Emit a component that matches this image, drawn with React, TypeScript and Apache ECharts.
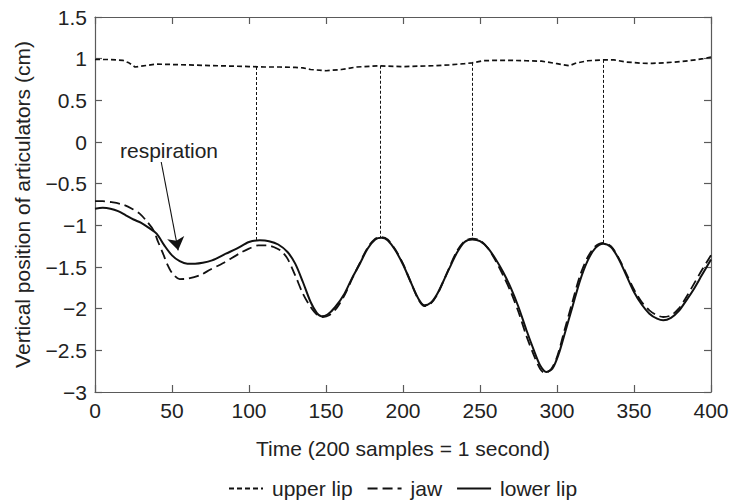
import React, { useEffect, useRef } from "react";
import * as echarts from "echarts";

// ---- data ----
const xLower = [0, 5, 10, 15, 20, 25, 30, 35, 40, 45, 50, 55, 60, 65, 70, 76, 85, 92, 100, 107, 113, 119, 125, 130, 135, 140, 144, 147, 151, 156, 162, 167, 172, 177, 182, 186, 190, 195, 200, 205, 210, 214, 218, 222, 226, 230, 235, 240, 245, 250, 255, 260, 265, 270, 275, 280, 285, 289, 293, 297, 301, 305, 310, 315, 320, 325, 330, 335, 340, 345, 350, 355, 360, 365, 369, 374, 379, 384, 389, 394, 400];
const lowerLip = [-0.8, -0.79, -0.8, -0.83, -0.88, -0.93, -0.97, -1.03, -1.1, -1.24, -1.36, -1.43, -1.46, -1.46, -1.45, -1.42, -1.34, -1.28, -1.2, -1.18, -1.19, -1.23, -1.32, -1.46, -1.68, -1.92, -2.05, -2.09, -2.07, -1.98, -1.82, -1.63, -1.46, -1.28, -1.17, -1.15, -1.18, -1.3, -1.47, -1.68, -1.88, -1.96, -1.93, -1.83, -1.68, -1.52, -1.33, -1.2, -1.17, -1.19, -1.27, -1.4, -1.56, -1.75, -1.98, -2.25, -2.5, -2.68, -2.76, -2.72, -2.55, -2.3, -1.98, -1.66, -1.42, -1.27, -1.22, -1.26, -1.4, -1.6, -1.8, -1.95, -2.06, -2.12, -2.14, -2.11, -2.03, -1.9, -1.76, -1.6, -1.41];

const xJaw = [0, 5, 10, 18, 24, 29, 34, 38, 41, 44, 47, 50, 55, 60, 68, 75, 83, 94, 100, 106, 112, 116, 121, 125, 130, 135, 140, 144, 148, 152, 157, 162, 167, 172, 177, 182, 186, 190, 195, 200, 205, 210, 214, 218, 222, 226, 230, 235, 240, 245, 250, 255, 260, 265, 270, 275, 280, 285, 289, 292, 296, 300, 305, 310, 315, 320, 325, 330, 335, 340, 345, 350, 355, 360, 365, 369, 374, 379, 384, 389, 394, 400];
const jaw = [-0.71, -0.71, -0.72, -0.75, -0.8, -0.86, -0.96, -1.06, -1.2, -1.33, -1.47, -1.57, -1.645, -1.64, -1.6, -1.53, -1.455, -1.335, -1.28, -1.24, -1.24, -1.26, -1.31, -1.4, -1.6, -1.82, -1.98, -2.07, -2.1, -2.08, -1.99, -1.84, -1.64, -1.45, -1.27, -1.16, -1.14, -1.17, -1.29, -1.46, -1.68, -1.89, -1.97, -1.94, -1.84, -1.68, -1.51, -1.31, -1.19, -1.16, -1.18, -1.27, -1.42, -1.6, -1.8, -2.04, -2.32, -2.56, -2.72, -2.77, -2.73, -2.58, -2.25, -1.92, -1.6, -1.38, -1.25, -1.21, -1.25, -1.39, -1.58, -1.77, -1.92, -2.02, -2.08, -2.1, -2.08, -2.0, -1.86, -1.7, -1.54, -1.36];

const xUpper = [0, 10, 18, 22, 26, 30, 40, 50, 60, 70, 80, 90, 100, 110, 120, 130, 135, 140, 150, 160, 170, 180, 185, 190, 200, 210, 220, 230, 240, 245, 252, 260, 270, 280, 290, 300, 308, 312, 320, 330, 337, 345, 355, 362, 370, 380, 390, 395, 400];
const upperLip = [0.99, 0.99, 0.98, 0.95, 0.9, 0.91, 0.935, 0.93, 0.925, 0.92, 0.915, 0.91, 0.905, 0.9, 0.9, 0.895, 0.89, 0.87, 0.855, 0.87, 0.9, 0.91, 0.915, 0.91, 0.905, 0.91, 0.915, 0.925, 0.94, 0.95, 0.975, 0.98, 0.98, 0.975, 0.97, 0.94, 0.915, 0.945, 0.975, 0.985, 0.985, 0.96, 0.945, 0.944, 0.95, 0.965, 0.985, 1.0, 1.02];

// vertical reference lines (upper lip -> lower lip peaks)
const markerX = [105, 185, 245, 330];
const markerTop = [0.9, 0.915, 0.95, 0.985];
const markerBottom = [-1.18, -1.15, -1.17, -1.22];

// annotation arrow
const arrowFrom = [43, -0.24];
const arrowTo = [54, -1.3];

const seriesNames = ["upper lip", "jaw", "lower lip"];

const FONT = "'Liberation Sans', Arial, Helvetica, sans-serif";
const AXIS_COLOR = "#5a5a5a";
const TEXT_COLOR = "#222";
const LINE_COLOR = "#111";

const fmtMinus = (v: number) => (v < 0 ? "\u2212" + String(Math.abs(v)) : String(v));

export default function App() {
  const ref = useRef<HTMLDivElement>(null);

  useEffect(() => {
    if (!ref.current) return;
    const chart = echarts.init(ref.current, undefined, { renderer: "svg" });

    const axisCommon = {
      axisLine: { onZero: false, lineStyle: { color: AXIS_COLOR, width: 1.2 } },
      axisTick: { inside: true, length: 7, lineStyle: { color: AXIS_COLOR, width: 1.2 } },
      splitLine: { show: false },
    };

    const option: any = {
      animation: false,
      backgroundColor: "#fff",
      textStyle: { fontFamily: FONT },
      grid: { left: 95, right: 18, top: 17, bottom: 110, containLabel: false, outerBoundsMode: "none" },
      legend: {
        data: seriesNames,
        left: 228,
        top: 478,
        padding: 0,
        itemWidth: 34,
        itemHeight: 12,
        itemGap: 14,
        itemStyle: { opacity: 0 },
        textStyle: { fontSize: 21, color: TEXT_COLOR, fontFamily: FONT, padding: [0, 0, 0, 4] },
      },
      xAxis: [
        {
          type: "value",
          position: "bottom",
          min: 0,
          max: 400,
          interval: 50,
          ...axisCommon,
          axisLabel: { margin: 8, fontSize: 21, color: TEXT_COLOR, fontFamily: FONT },
          name: "Time (200 samples = 1 second)",
          nameLocation: "middle",
          nameGap: 46,
          nameTextStyle: { fontSize: 21, color: TEXT_COLOR, fontFamily: FONT },
        },
        {
          type: "value",
          position: "top",
          min: 0,
          max: 400,
          interval: 50,
          ...axisCommon,
          axisLabel: { show: false },
        },
      ],
      yAxis: [
        {
          type: "value",
          position: "left",
          min: -3,
          max: 1.5,
          interval: 0.5,
          ...axisCommon,
          axisLabel: { margin: 8, fontSize: 21, color: TEXT_COLOR, fontFamily: FONT, formatter: fmtMinus },
          name: "Vertical position of articulators (cm)",
          nameLocation: "middle",
          nameGap: 62,
          nameTextStyle: { fontSize: 21, color: TEXT_COLOR, fontFamily: FONT },
        },
        {
          type: "value",
          position: "right",
          min: -3,
          max: 1.5,
          interval: 0.5,
          ...axisCommon,
          axisLabel: { show: false },
        },
      ],
      series: [
        {
          name: seriesNames[0],
          type: "line",
          xAxisIndex: 0,
          yAxisIndex: 0,
          symbol: "none",
          smooth: false,
          data: xUpper.map((x, i) => [x, upperLip[i]]),
          lineStyle: { color: LINE_COLOR, width: 1.7, type: [5, 3] },
          itemStyle: { color: LINE_COLOR },
          markLine: {
            silent: true,
            symbol: "none",
            label: { show: false },
            lineStyle: { color: LINE_COLOR, width: 1, type: [3, 2] },
            data: markerX.map((x, i) => [{ coord: [x, markerTop[i]] }, { coord: [x, markerBottom[i]] }]),
          },
        },
        {
          name: seriesNames[1],
          type: "line",
          xAxisIndex: 0,
          yAxisIndex: 0,
          symbol: "none",
          smooth: 0.3,
          data: xJaw.map((x, i) => [x, jaw[i]]),
          lineStyle: { color: LINE_COLOR, width: 1.8, type: [10, 5] },
          itemStyle: { color: LINE_COLOR },
          markLine: {
            silent: true,
            symbol: ["none", "arrow"],
            symbolSize: 13,
            label: { show: false },
            lineStyle: { color: LINE_COLOR, width: 1.1, type: "solid" },
            itemStyle: { color: LINE_COLOR },
            data: [[{ coord: arrowFrom }, { coord: arrowTo }]],
          },
        },
        {
          name: seriesNames[2],
          type: "line",
          xAxisIndex: 0,
          yAxisIndex: 0,
          symbol: "none",
          smooth: 0.3,
          data: xLower.map((x, i) => [x, lowerLip[i]]),
          lineStyle: { color: LINE_COLOR, width: 2, type: "solid" },
          itemStyle: { color: LINE_COLOR },
        },
      ],
      graphic: [
        {
          type: "text",
          x: 120,
          y: 150,
          silent: true,
          style: {
            text: "respiration",
            fontSize: 21,
            fontFamily: FONT,
            fill: TEXT_COLOR,
            verticalAlign: "middle",
          },
        },
      ],
    };

    chart.setOption(option);
    return () => chart.dispose();
  }, []);

  return (
    <div
      ref={ref}
      style={{ position: "absolute", left: 0, top: 0, width: 729, height: 502, background: "#fff" }}
    />
  );
}
